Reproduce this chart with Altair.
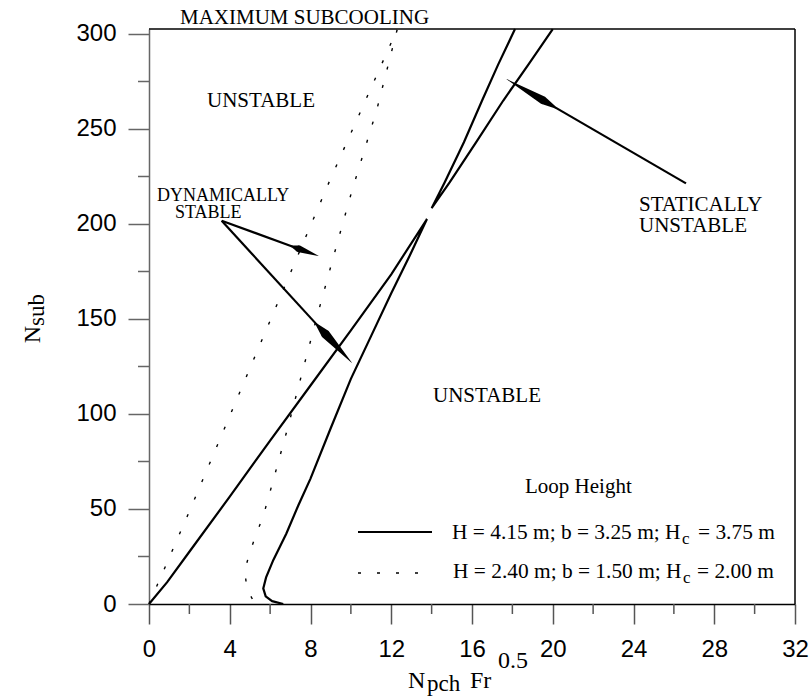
import altair as alt
import pandas as pd

# ---------------- data ----------------
# H = 4.15 m loop (solid): lower loop (left branch up to the tip, right branch back down)
solid_lower_x = [0, 0.9, 2.0, 4.0, 6.0, 8.0, 10.0, 12.0, 13.77,
                 12.9, 12.0, 11.0, 10.0, 9.0, 8.0, 7.4, 6.8, 6.16, 5.8, 5.66, 5.78, 6.1, 6.65]
solid_lower_y = [0, 11.5, 27.5, 56.5, 86, 115, 144, 173.5, 202.6,
                 183, 163.5, 141, 118.5, 92.5, 66, 52, 37, 23.2, 14, 8.2, 4, 1.5, 0]
# upper wedge of the same loop
solid_upper_x = [18.13, 17.3, 16.5, 15.6, 14.65, 14.0, 14.9, 16.2, 17.55, 18.8, 20.0]
solid_upper_y = [302.6, 284, 265, 243, 222, 208.3, 222, 243, 265, 284, 302.6]
# H = 2.40 m loop (dotted)
dotted_x = [0, 1.9, 5.17, 8.96, 12.3, 11.28, 10.04, 9.3, 8.3, 7.6, 6.9, 6.16, 5.66, 5.33, 5.0, 4.75, 4.84, 5.25]
dotted_y = [0, 46.3, 128.4, 223, 302.6, 260, 217, 189, 150.4, 122.3, 93.8, 65.3, 46.3, 37.2, 27.5, 17.9, 8.2, 0]

# annotation arrows (data units)
arrow_start_x = [3.60, 3.60, 26.60]
arrow_start_y = [201.7, 201.7, 221.4]
arrow_tip_x = [8.39, 10.04, 17.72]
arrow_tip_y = [183.2, 127.0, 276.2]

x_ticks = [0, 4, 8, 12, 16, 20, 24, 28, 32]
x_minor = [2, 6, 10, 14, 18, 22, 26, 30]
y_ticks = [0, 50, 100, 150, 200, 250, 300]
y_minor = [25, 75, 125, 175, 225, 275]

# ---------------- layout ----------------
W, H = 646, 575
X_DOM = [0, 32]
Y_DOM = [0, 302.63]
SERIF = "Liberation Serif"
SANS = "Liberation Sans"

xs = alt.Scale(domain=X_DOM, nice=False, zero=False)
ys = alt.Scale(domain=Y_DOM, nice=False, zero=False)

AX = alt.Axis(values=x_ticks, tickSize=20, labelPadding=13, labelFont=SANS, labelFontSize=24,
              labelColor="black", domainColor="black", domainWidth=1.5, tickColor="#555",
              tickWidth=1.5, grid=False, title=None, labelFlush=False)
AY = alt.Axis(values=y_ticks, tickSize=21, labelPadding=12, labelFont=SANS, labelFontSize=24,
              labelColor="black", domainColor="#666", domainWidth=1.5, tickColor="#666",
              tickWidth=1.5, grid=False, title=None, labelFlush=False)


def X(field):
    return alt.X(field, scale=xs, axis=AX)


def Y(field):
    return alt.Y(field, scale=ys, axis=AY)


def curve_df(xv, yv, branch):
    return pd.DataFrame({"x": xv, "y": yv, "o": list(range(len(xv))), "b": branch})


solid_df = pd.concat([curve_df(solid_lower_x, solid_lower_y, "lower"),
                      curve_df(solid_upper_x, solid_upper_y, "upper")])
dotted_df = curve_df(dotted_x, dotted_y, "d")

solid = alt.Chart(solid_df).mark_line(color="black", strokeWidth=2.2).encode(
    x=X("x:Q"), y=Y("y:Q"), detail="b:N", order="o:Q")

dotted = alt.Chart(dotted_df).mark_line(color="black", strokeWidth=1.4, strokeDash=[3, 16]).encode(
    x=X("x:Q"), y=Y("y:Q"), detail="b:N", order="o:Q")

# arrows
shaft_rows, head_rows = [], []
head_w = [7, 9, 8]
for i in range(3):
    sx, sy, tx, ty = arrow_start_x[i], arrow_start_y[i], arrow_tip_x[i], arrow_tip_y[i]
    bx, by = tx + 0.27 * (sx - tx), ty + 0.27 * (sy - ty)
    mx, my = bx + 0.25 * (tx - bx), by + 0.25 * (ty - by)
    shaft_rows += [{"x": sx, "y": sy, "o": 0, "a": i}, {"x": bx, "y": by, "o": 1, "a": i}]
    head_rows += [{"x": bx, "y": by, "o": 0, "a": i, "w": 2.2},
                  {"x": mx, "y": my, "o": 1, "a": i, "w": head_w[i]},
                  {"x": tx, "y": ty, "o": 2, "a": i, "w": 0.3}]

shafts = alt.Chart(pd.DataFrame(shaft_rows)).mark_line(color="black", strokeWidth=2.2).encode(
    x=X("x:Q"), y=Y("y:Q"), detail="a:N", order="o:Q")
heads = alt.Chart(pd.DataFrame(head_rows)).mark_trail(color="black").encode(
    x=X("x:Q"), y=Y("y:Q"),
    size=alt.Size("w:Q", scale=None, legend=None), detail="a:N", order="o:Q")

# minor ticks
minor_y = alt.Chart(pd.DataFrame({"v": y_minor})).mark_rule(color="#666", strokeWidth=1.5).encode(
    y=Y("v:Q"), x=alt.value(-11), x2=alt.value(0))
minor_x = alt.Chart(pd.DataFrame({"v": x_minor})).mark_rule(color="#555", strokeWidth=1.5).encode(
    x=X("v:Q"), y=alt.value(H), y2=alt.value(H + 10))

# frame (top and right)
frame_top = alt.Chart().mark_rule(color="black", strokeWidth=1.5).encode(
    x=alt.value(0), x2=alt.value(W), y=alt.value(0))
frame_right = alt.Chart().mark_rule(color="black", strokeWidth=1.5).encode(
    x=alt.value(W), y=alt.value(0), y2=alt.value(H))

OX, OY = 149, 29  # page position of the plot origin


def label(txt, px, py, size=21, font=SERIF, angle=0):
    kw = dict(align="left", baseline="alphabetic", font=font, fontSize=size, color="black")
    if angle:
        kw["angle"] = angle
    return alt.Chart().mark_text(**kw).encode(
        x=alt.value(px - OX), y=alt.value(py - OY), text=alt.value(txt))


texts = [
    label("MAXIMUM SUBCOOLING", 180, 24.3),
    label("UNSTABLE", 207, 107.3),
    label("DYNAMICALLY", 157, 200.7, size=18),
    label("STABLE", 175, 218.3, size=18),
    label("STATICALLY", 639, 210.7),
    label("UNSTABLE", 639, 231.7),
    label("UNSTABLE", 433, 402),
    label("Loop Height", 525, 493.3),
    label("H = 4.15 m; b = 3.25 m; H", 452, 539.3, size=21.4),
    label("c", 682, 543.5, size=17),
    label("= 3.75 m", 698, 539.3, size=21.4),
    label("H = 2.40 m; b = 1.50 m; H", 453, 578.3, size=21.4),
    label("c", 683, 582.5, size=17),
    label("= 2.00 m", 697, 578.3, size=21.4),
    # x axis title
    label("N", 408, 688.3, size=24),
    label("pch", 427, 691, size=23),
    label("Fr", 470, 688.3, size=24),
    label("0.5", 498, 668.3, size=24),
    # y axis title
    label("N", 40, 343.3, size=24, angle=270),
    label("sub", 43.5, 326, size=23, angle=270),
]

leg_solid = alt.Chart().mark_rule(color="black", strokeWidth=2.2).encode(
    x=alt.value(358 - OX), x2=alt.value(432 - OX), y=alt.value(532 - OY))
leg_dot = alt.Chart().mark_rule(color="black", strokeWidth=1.4, strokeDash=[3, 16]).encode(
    x=alt.value(358 - OX), x2=alt.value(419 - OX), y=alt.value(573 - OY))

chart = alt.layer(
    solid, dotted, shafts, heads, minor_y, minor_x, frame_top, frame_right,
    leg_solid, leg_dot, *texts
).properties(
    width=W, height=H,
    autosize=alt.AutoSizeParams(type="none"),
    padding={"left": OX, "top": OY, "right": 811 - OX - W, "bottom": 699 - OY - H},
    background="white",
).configure_view(stroke=None)

chart.save("out.html", embed_options={"renderer": "svg", "actions": False})
